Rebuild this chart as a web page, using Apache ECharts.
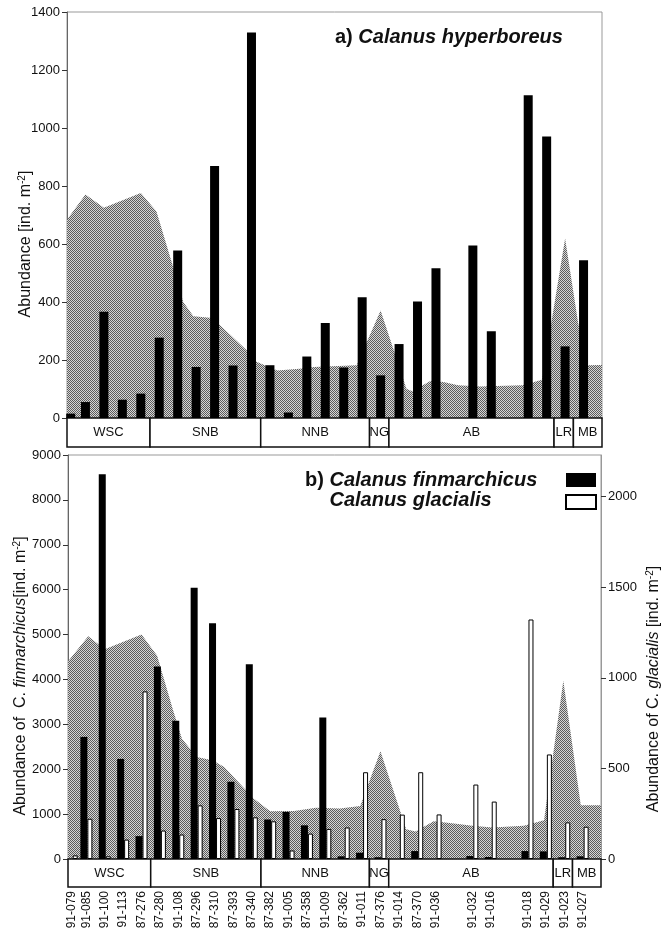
<!DOCTYPE html>
<html><head><meta charset="utf-8">
<script src="https://cdn.jsdelivr.net/npm/echarts@6/dist/echarts.min.js"></script>
<style>html,body{margin:0;padding:0;background:#fff}#c{width:671px;height:928px}</style>
</head><body><div id="c"></div>
<script>
// ---------- data ----------
const stations = ['91-079','91-085','91-100','91-113','87-276','87-280','91-108','87-296','87-310','87-393','87-340','87-382','91-005','87-358','91-009','87-362','91-011','87-376','91-014','87-370','91-036','91-032','91-016','91-018','91-029','91-023','91-027'];
const stationPos = [0.2,1,2,3,4,5,6,7,8,9,10,11,12,13,14,15,16,17,18,19,20,22,23,25,26,27,28];
const hyperboreus = [15,55,366,63,84,277,578,176,869,181,1329,182,19,212,328,174,416,147,255,402,516,595,299,1113,971,247,544];
const finmarchicus = [0,2720,8570,2230,510,4290,3080,6040,5250,1720,4340,880,1050,750,3150,60,140,40,0,177,0,66,44,177,170,40,60];
const glacialis = [20,222,15,107,925,157,135,296,226,276,230,208,47,140,166,174,479,220,245,479,246,411,317,1322,577,202,178];
const areaA = [[0,684],[1,771],[2,725],[4,776],[4.85,712],[5.7,532],[6.3,400],[6.85,351],[7.75,346],[8.3,320],[9.75,233],[10.3,193],[11.4,164],[12.6,170],[13.4,176],[15.7,182],[17,371],[18.4,101],[18.7,92],[19.7,128],[20.4,124],[21.2,113],[22.4,109],[24.7,113],[25.75,132],[27,619],[27.7,330],[28.2,182],[29,183]];
const areaB = [[0,4400],[1.1,4960],[2,4670],[4,5000],[4.85,4530],[5.75,3270],[6.2,2680],[7,2270],[7.85,2200],[8.5,2050],[10.1,1350],[11,1065],[12.3,1070],[13.5,1140],[14.8,1125],[15.9,1180],[17,2400],[18.4,665],[18.9,610],[19.9,840],[21,790],[22,740],[23.1,700],[24.8,740],[25.9,865],[26.95,3970],[27.9,1200],[29,1200]];
const regions = ['WSC','SNB','NNB','NG','AB','LR','MB'];
const regionEdges = [0,4.5,10.5,16.4,17.45,26.4,27.45,29];
const ticksBRight = [0,500,1000,1500,2000];

// ---------- helpers ----------
const FF = '"Liberation Sans", Arial, Helvetica, sans-serif';
function makePattern(){
  const c = document.createElement('canvas'); c.width = 2; c.height = 2;
  const g = c.getContext('2d');
  g.fillStyle = '#d6d6d6'; g.fillRect(0,0,2,2);
  g.fillStyle = '#5c5c5c'; g.fillRect(0,0,1,1); g.fillRect(1,1,1,1);
  return c;
}
const pat = {image: makePattern(), repeat: 'repeat'};
const boxData = regions.map((r,i) => [regionEdges[i], regionEdges[i+1]]);
function boxRender(params, api){
  const s = api.value(0), e = api.value(1);
  const p0 = api.coord([s, 1]), p1 = api.coord([e, 0]);
  return {type:'group', children:[
    {type:'rect', shape:{x:p0[0], y:p0[1], width:p1[0]-p0[0], height:p1[1]-p0[1]},
     style:{fill:'#fff', stroke:'#111', lineWidth:1.5}},
    {type:'text', style:{text: regions[params.dataIndex], x:(p0[0]+p1[0])/2, y:(p0[1]+p1[1])/2,
     align:'center', verticalAlign:'middle', font:'13px ' + FF, fill:'#111'}}
  ]};
}
const nameRich = {
  s:{fontSize:10, fontFamily:FF, color:'#111', verticalAlign:'top', lineHeight:18},
  it:{fontSize:16, fontFamily:FF, color:'#111', fontStyle:'italic', lineHeight:18}
};
const plain = v => String(v);
function yBase(extra){
  return Object.assign({
    type:'value', splitLine:{show:false}, nameMoveOverlap:false,
    axisLine:{show:true, lineStyle:{color:'#666', width:1}},
    axisTick:{show:true, length:5, lineStyle:{color:'#333'}},
    axisLabel:{fontSize:13, color:'#111', fontFamily:FF, margin:7, formatter:plain}
  }, extra);
}
function xHidden(grid, extra){
  return Object.assign({type:'value', gridIndex:grid, min:0, max:29, splitLine:{show:false},
    axisLabel:{show:false}, axisTick:{show:false}, axisLine:{show:false}}, extra);
}
const G = {outerBoundsMode:'none', containLabel:false};

const option = {
  animation:false,
  backgroundColor:'#fff',
  textStyle:{fontFamily:FF},
  title:[
    {left:330, top:22, text:'{n|a) }{i|Calanus hyperboreus}',
     textStyle:{rich:{
       n:{fontSize:20, fontWeight:'bold', color:'#111', fontFamily:FF},
       i:{fontSize:20, fontWeight:'bold', fontStyle:'italic', color:'#111', fontFamily:FF}}}},
    {left:300, top:465, text:'{n|b) }{i|Calanus finmarchicus}\n{h|b) }{i|Calanus glacialis}',
     textStyle:{rich:{
       n:{fontSize:20, fontWeight:'bold', color:'#111', fontFamily:FF, lineHeight:20},
       h:{fontSize:20, fontWeight:'bold', color:'transparent', fontFamily:FF, lineHeight:20},
       i:{fontSize:20, fontWeight:'bold', fontStyle:'italic', color:'#111', fontFamily:FF, lineHeight:20}}}}
  ],
  legend:{left:560, top:468, orient:'vertical', itemWidth:30, itemHeight:14, itemGap:7,
    icon:'rect', selectedMode:false, formatter:() => '', textStyle:{fontSize:1},
    data:['Calanus finmarchicus','Calanus glacialis']},
  grid:[
    Object.assign({left:67, top:12, width:535, height:406, show:true, borderColor:'#999', borderWidth:1}, G),
    Object.assign({left:67, top:418, width:535, height:29}, G),
    Object.assign({left:68, top:455, width:533, height:404, show:true, borderColor:'#999', borderWidth:1}, G),
    Object.assign({left:68, top:859, width:533, height:28}, G)
  ],
  xAxis:[
    xHidden(0, {axisLine:{show:true, lineStyle:{color:'#111'}}}),
    xHidden(1),
    xHidden(2, {axisLine:{show:true, lineStyle:{color:'#111'}}}),
    xHidden(3, {axisLabel:{show:true, customValues:stationPos, rotate:90, margin:4,
      fontSize:12, color:'#111', fontFamily:FF,
      formatter: v => { const i = stationPos.findIndex(p => Math.abs(p - v) < 1e-6); return i >= 0 ? stations[i] : ''; }}})
  ],
  yAxis:[
    yBase({gridIndex:0, min:0, max:1400, interval:200,
      name:'Abundance [ind. m{s|-2}]', nameLocation:'middle', nameGap:32, nameRotate:90,
      nameTextStyle:{fontSize:16, color:'#111', fontFamily:FF, lineHeight:18, padding:[0,58,0,0], rich:nameRich}}),
    {type:'value', gridIndex:1, min:0, max:1, show:false},
    yBase({gridIndex:2, min:0, max:9000, interval:1000,
      name:'Abundance of  C. {it|finmarchicus}[ind. m{s|-2}]', nameLocation:'middle', nameGap:38, nameRotate:90,
      nameTextStyle:{fontSize:16, color:'#111', fontFamily:FF, lineHeight:18, padding:[0,38,0,0], rich:nameRich}}),
    yBase({gridIndex:2, position:'right', min:0, max:2230,
      axisLabel:{fontSize:13, color:'#111', fontFamily:FF, margin:7, customValues:ticksBRight, formatter:plain},
      axisTick:{show:true, length:5, lineStyle:{color:'#333'}, customValues:ticksBRight},
      axisLine:{show:true, lineStyle:{color:'#999'}},
      name:'Abundance of C. {it|glacialis} [ind. m{s|-2}]', nameLocation:'middle', nameGap:44, nameRotate:90,
      nameTextStyle:{fontSize:16, color:'#111', fontFamily:FF, lineHeight:18, padding:[0,64,0,0], rich:nameRich}}),
    {type:'value', gridIndex:3, min:0, max:1, show:false}
  ],
  series:[
    {type:'line', name:'areaA', xAxisIndex:0, yAxisIndex:0, data:areaA, symbol:'none', silent:true,
     lineStyle:{width:0}, areaStyle:{color:pat, opacity:1}, z:1},
    {type:'bar', name:'Calanus hyperboreus', xAxisIndex:0, yAxisIndex:0,
     data:stationPos.map((x,i) => [x, hyperboreus[i]]), barWidth:9, itemStyle:{color:'#000'}, z:3},
    {type:'custom', xAxisIndex:1, yAxisIndex:1, data:boxData, renderItem:boxRender, encode:{x:[0,1]}, silent:true},
    {type:'line', name:'areaB', xAxisIndex:2, yAxisIndex:2, data:areaB, symbol:'none', silent:true,
     lineStyle:{width:0}, areaStyle:{color:pat, opacity:1}, z:1},
    {type:'bar', name:'Calanus finmarchicus', xAxisIndex:2, yAxisIndex:2,
     data:stationPos.map((x,i) => [x, finmarchicus[i]]), barWidth:7, barGap:'0%', itemStyle:{color:'#000'}, z:3},
    {type:'bar', name:'Calanus glacialis', xAxisIndex:2, yAxisIndex:3,
     data:stationPos.map((x,i) => [x, glacialis[i]]), barWidth:5, barGap:'0%',
     itemStyle:{color:'#fff', borderColor:'#000', borderWidth:1}, z:3},
    {type:'custom', xAxisIndex:3, yAxisIndex:4, data:boxData, renderItem:boxRender, encode:{x:[0,1]}, silent:true}
  ]
};
const chart = echarts.init(document.getElementById('c'), null, {renderer:'canvas'});
chart.setOption(option);
</script></body></html>
